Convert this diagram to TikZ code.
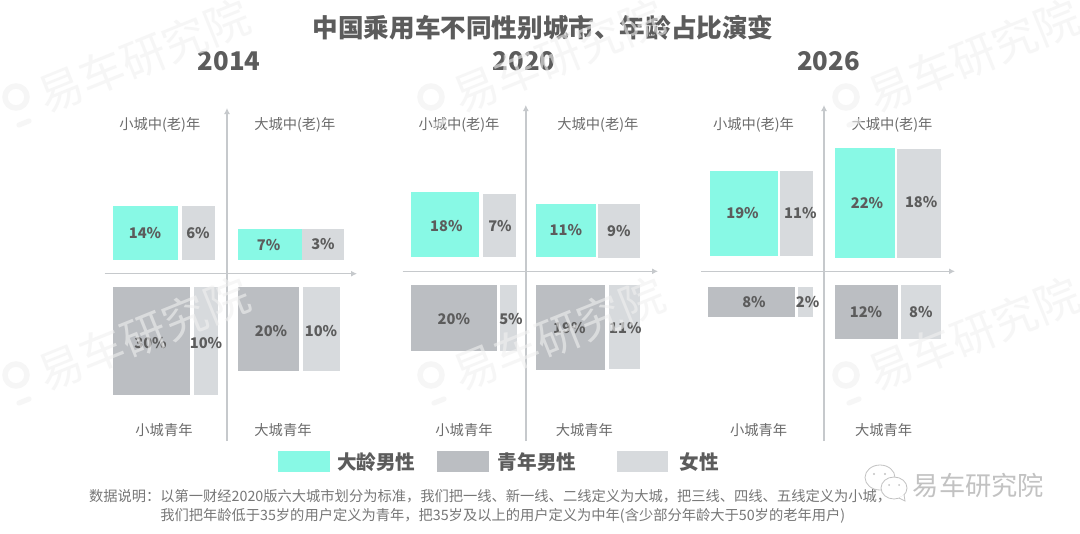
\documentclass[tikz,border=0pt]{standalone}
\usepackage{fontspec}
\setmainfont{Noto Sans CJK SC}
\usepackage{xcolor}
\usetikzlibrary{arrows.meta,positioning}
\definecolor{agedteal}{HTML}{88F9E5}
\definecolor{youngbar}{HTML}{BBBEC2}
\definecolor{femalebar}{HTML}{D7DADD}
\definecolor{axisgray}{HTML}{C6C9CC}
\definecolor{inkgray}{HTML}{5C5C5C}
\definecolor{notegray}{HTML}{777777}
\definecolor{wmgray}{gray}{0.94}
\tikzset{
  axisline/.style={draw=axisgray, line width=1.1pt, -{Latex[length=4.5pt,width=4.5pt]}},
  pct/.style={font=\fontsize{11}{13}\selectfont\bfseries, text=inkgray, inner sep=0pt},
  quad/.style={font=\fontsize{10.7}{12}\selectfont, text=notegray!90!black, inner sep=0pt, yshift=-1pt},
  yearlabel/.style={font=\fontsize{19.3}{24}\selectfont\bfseries, text=inkgray, inner sep=0pt, yshift=-0.7pt},
  legendtext/.style={font=\fontsize{14.7}{17}\selectfont\bfseries, text=inkgray, inner sep=0pt, anchor=west, yshift=-0.5pt},
  notetext/.style={font=\fontsize{10.7}{12}\selectfont, text=notegray, inner sep=0pt, anchor=west},
  wmark/.style={font=\fontsize{33.5}{38}\selectfont, text=wmgray, inner sep=0pt, rotate=22, text opacity=0.6},
  wxline/.style={draw=black!24, line width=0.6pt},
}
\begin{document}
\begin{tikzpicture}[x=0.75pt, y=-0.75pt]
  \useasboundingbox (0,0) rectangle (1080,533);
  \fill[white] (0,0) rectangle (1080,533);
  % Title
  \node[font=\fontsize{19.2}{23}\selectfont\bfseries, text=inkgray, inner sep=0pt] (title) at (543,28) {中国乘用车不同性别城市、年龄占比演变};
  % 2014 panel
  \node[yearlabel] (y14) at (229,60) {2014};
  \fill[agedteal] (112.6,206) rectangle (178,260);
  \fill[femalebar] (181.5,206) rectangle (215,260);
  \fill[agedteal] (238.3,228.7) rectangle (302.3,260);
  \fill[femalebar] (302.3,228.7) rectangle (343.7,260);
  \fill[youngbar] (112.6,287.3) rectangle (190.4,395.3);
  \fill[femalebar] (193.5,287.3) rectangle (218,395.3);
  \fill[youngbar] (238.3,287.3) rectangle (299,371.3);
  \fill[femalebar] (303.4,287.3) rectangle (340.2,371.3);
  \coordinate (v14b) at (227,441);
  \coordinate (v14t) at (227,108);
  \coordinate (h14l) at (104.7,273.7);
  \coordinate (h14r) at (357,273.7);
  \draw[axisline] (v14b) -- (v14t);
  \draw[axisline] (h14l) -- (h14r);
  \node[pct] (a14a) at (145,232.7) {14\%};
  \node[pct] (a14b) at (198,232.7) {6\%};
  \node[pct] (a14c) at (268.6,245) {7\%};
  \node[pct] (a14d) at (323,244) {3\%};
  \node[pct] (a14e) at (150.5,343) {30\%};
  \node[pct] (a14f) at (206,343) {10\%};
  \node[pct] (a14g) at (271,331) {20\%};
  \node[pct] (a14h) at (321,331) {10\%};
  \node[quad] (q14a) at (159.8,124) {小城中(老)年};
  \node[quad] (q14b) at (294.8,124) {大城中(老)年};
  \node[quad] (q14c) at (164,429) {小城青年};
  \node[quad] (q14d) at (283,429) {大城青年};
  % 2020 panel
  \node[yearlabel] (y20) at (524,60) {2020};
  \fill[agedteal] (410.5,192) rectangle (479,257.3);
  \fill[femalebar] (482.8,193.7) rectangle (516.2,257.3);
  \fill[agedteal] (535.5,204) rectangle (596,257.3);
  \fill[femalebar] (597.9,204) rectangle (640.2,257.7);
  \fill[youngbar] (410.5,285.3) rectangle (496.6,350.7);
  \fill[femalebar] (500,285.3) rectangle (517,350.7);
  \fill[youngbar] (535.5,285.3) rectangle (605.4,370.3);
  \fill[femalebar] (608.9,285.3) rectangle (639.9,369);
  \coordinate (v20b) at (525.8,441);
  \coordinate (v20t) at (525.8,105);
  \coordinate (h20l) at (402.5,271.3);
  \coordinate (h20r) at (658,271.3);
  \draw[axisline] (v20b) -- (v20t);
  \draw[axisline] (h20l) -- (h20r);
  \node[pct] (a20a) at (446.3,226) {18\%};
  \node[pct] (a20b) at (500,226) {7\%};
  \node[pct] (a20c) at (565.8,230.3) {11\%};
  \node[pct] (a20d) at (618.9,231) {9\%};
  \node[pct] (a20e) at (453.9,318.7) {20\%};
  \node[pct] (a20f) at (511,318.7) {5\%};
  \node[pct] (a20g) at (569.3,328) {19\%};
  \node[pct] (a20h) at (625.4,328) {11\%};
  \node[quad] (q20a) at (459,124) {小城中(老)年};
  \node[quad] (q20b) at (597.9,124) {大城中(老)年};
  \node[quad] (q20c) at (464,429) {小城青年};
  \node[quad] (q20d) at (584.4,429) {大城青年};
  % 2026 panel
  \node[yearlabel] (y26) at (828.6,60) {2026};
  \fill[agedteal] (710.1,170.7) rectangle (778,255.7);
  \fill[femalebar] (780,170.7) rectangle (812.7,255.7);
  \fill[agedteal] (835,148.3) rectangle (894.7,257.7);
  \fill[femalebar] (896.7,149.3) rectangle (940.5,258.3);
  \fill[youngbar] (708,287) rectangle (794.8,317.3);
  \fill[femalebar] (797.6,287) rectangle (813,317.3);
  \fill[youngbar] (835,285.3) rectangle (897.8,338.7);
  \fill[femalebar] (900.9,285.3) rectangle (940.5,338.7);
  \coordinate (v26b) at (824,441);
  \coordinate (v26t) at (824,105);
  \coordinate (h26l) at (700.8,271.3);
  \coordinate (h26r) at (955,271.3);
  \draw[axisline] (v26b) -- (v26t);
  \draw[axisline] (h26l) -- (h26r);
  \node[pct] (a26a) at (742.5,213) {19\%};
  \node[pct] (a26b) at (800.3,213) {11\%};
  \node[pct] (a26c) at (867,202.7) {22\%};
  \node[pct] (a26d) at (921.2,202.3) {18\%};
  \node[pct] (a26e) at (754,302.3) {8\%};
  \node[pct] (a26f) at (807.6,302.3) {2\%};
  \node[pct] (a26g) at (866,312) {12\%};
  \node[pct] (a26h) at (920.8,312) {8\%};
  \node[quad] (q26a) at (753.5,124) {小城中(老)年};
  \node[quad] (q26b) at (892,124) {大城中(老)年};
  \node[quad] (q26c) at (758.7,429) {小城青年};
  \node[quad] (q26d) at (883.7,429) {大城青年};
  % Legend
  \fill[agedteal] (278,450.7) rectangle (329.5,472);
  \node[legendtext] (lega) at (336.8,461) {大龄男性};
  \fill[youngbar] (437.3,450.7) rectangle (489,472);
  \node[legendtext] (legb) at (497.6,461) {青年男性};
  \fill[femalebar] (616.8,450.7) rectangle (668.4,472);
  \node[legendtext] (legc) at (679.5,461) {女性};
  % Notes
  \node[notetext] (notea) at (88.8,496.3) {数据说明：以第一财经2020版六大城市划分为标准，我们把一线、新一线、二线定义为大城，把三线、四线、五线定义为小城，};
  \node[notetext] (noteb) at (160,516.3) {我们把年龄低于35岁的用户定义为青年，把35岁及以上的用户定义为中年(含少部分年龄大于50岁的老年用户)};
  % WeChat mark
  \draw[wxline, fill=white] (880,477.5) ellipse (15 and 12.5);
  \fill[black!24] (874,474) circle (1.2) (885,474) circle (1.2);
  \draw[wxline, fill=white] (894,488) ellipse (13 and 11);
  \draw[wxline, fill=white] (899,498) -- (905,501) -- (904,494.5);
  \fill[black!24] (889,485) circle (1) (899,485) circle (1);
  \node[font=\fontsize{19.7}{22}\selectfont, text=black!24, inner sep=0pt] (brand) at (978.5,485.5) {易车研究院};
  % Watermarks
  \foreach \dx/\wname in {0/a,415/b,830/c} {
    \foreach \dy/\wrow in {0/t,278/u} {
      \begin{scope}[shift={(\dx,\dy)}]
        \node[wmark] (wm\wname\wrow) at (143.5,56) {易车研究院};
        \draw[wmgray, opacity=0.6, line width=4.1pt] (16,97) circle (11);
        \draw[wmgray, opacity=0.6, line width=3.75pt, line cap=round] (19,125) -- (29,121);
      \end{scope}
    }
  }
\end{tikzpicture}
\end{document}
